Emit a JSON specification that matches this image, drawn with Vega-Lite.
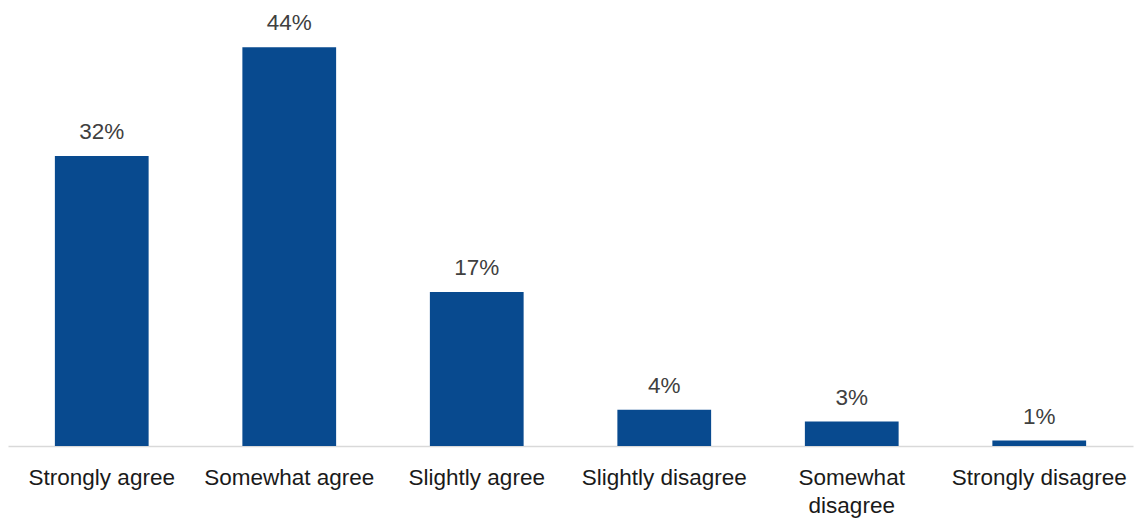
{
  "$schema": "https://vega.github.io/schema/vega-lite/v6.json",
  "width": 1125,
  "height": 446,
  "autosize": {"type": "none"},
  "padding": {"left": 8, "top": 0, "right": 1, "bottom": 72},
  "background": "white",
  "config": {"view": {"stroke": null}},
  "data": {
    "values": [
      {"response": "Strongly agree", "share": 0.32},
      {"response": "Somewhat agree", "share": 0.44},
      {"response": "Slightly agree", "share": 0.17},
      {"response": "Slightly disagree", "share": 0.04},
      {"response": "Somewhat disagree", "share": 0.027},
      {"response": "Strongly disagree", "share": 0.006}
    ]
  },
  "encoding": {
    "x": {
      "field": "response",
      "type": "nominal",
      "sort": null,
      "scale": {"paddingInner": 0.5, "paddingOuter": 0.25},
      "axis": {
        "title": null,
        "domainColor": "#d9d9d9",
        "domainWidth": 1.5,
        "ticks": false,
        "labelAngle": 0,
        "labelFont": "Liberation Sans",
        "labelFontSize": 22.5,
        "labelColor": "#1a1a1a",
        "labelPadding": 20,
        "labelLineHeight": 28,
        "labelLimit": 300,
        "labelExpr": "datum.label == 'Somewhat disagree' ? ['Somewhat', 'disagree'] : datum.label"
      }
    },
    "y": {
      "field": "share",
      "type": "quantitative",
      "scale": {"domain": [0, 0.492], "nice": false},
      "axis": null
    }
  },
  "layer": [
    {"mark": {"type": "bar", "color": "#084A8F"}},
    {
      "mark": {
        "type": "text",
        "baseline": "alphabetic",
        "dy": -17,
        "font": "Liberation Sans",
        "fontSize": 22.5,
        "color": "#404040"
      },
      "encoding": {"text": {"field": "share", "type": "quantitative", "format": ".0%"}}
    }
  ]
}
